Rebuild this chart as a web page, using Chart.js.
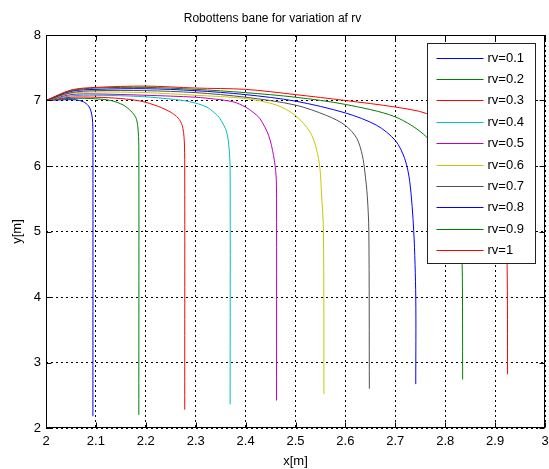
<!DOCTYPE html>
<html>
<head>
<meta charset="utf-8">
<script src="https://cdn.jsdelivr.net/npm/chart.js@4/dist/chart.umd.min.js"></script>
<style>
    html, body { margin: 0; padding: 0; background: #fff; }
</style>
</head>
<body>
<canvas id="bane" width="549" height="469"></canvas>
<script>
// navne paa kurverne
const rvNavne = ['rv=0.1', 'rv=0.2', 'rv=0.3', 'rv=0.4', 'rv=0.5', 'rv=0.6', 'rv=0.7', 'rv=0.8', 'rv=0.9', 'rv=1'];

// robottens bane [x, y] for hver rv
const rv01 = [[2, 7], [2.03, 7.01], [2.06, 7.01], [2.075, 6.98], [2.085, 6.92], [2.09, 6.84], [2.093, 6.72], [2.094, 6.5], [2.094, 2.18]];
const rv02 = [[2, 7], [2.04, 7.03], [2.09, 7.03], [2.13, 7.0], [2.155, 6.93], [2.17, 6.84], [2.18, 6.74], [2.184, 6.6], [2.186, 6.3], [2.186, 2.2]];
const rv03 = [[2, 7], [2.05, 7.05], [2.1, 7.05], [2.15, 7.03], [2.19, 6.99], [2.225, 6.91], [2.25, 6.82], [2.265, 6.73], [2.273, 6.62], [2.277, 6.4], [2.278, 6.0], [2.278, 2.28]];
const rv04 = [[2, 7], [2.05, 7.07], [2.1, 7.08], [2.16, 7.07], [2.21, 7.05], [2.275, 7.0], [2.3, 6.96], [2.322, 6.9], [2.338, 6.81], [2.349, 6.72], [2.362, 6.52], [2.367, 6.26], [2.369, 5.96], [2.369, 2.36]];
const rv05 = [[2, 7], [2.05, 7.09], [2.1, 7.1], [2.2, 7.08], [2.3, 7.05], [2.34, 7.02], [2.375, 6.98], [2.4, 6.9], [2.415, 6.82], [2.429, 6.72], [2.446, 6.47], [2.456, 6.16], [2.461, 5.86], [2.462, 5.5], [2.462, 2.42]];
const rv06 = [[2, 7], [2.05, 7.11], [2.1, 7.13], [2.2, 7.12], [2.3, 7.08], [2.4, 7.03], [2.462, 6.93], [2.5, 6.77], [2.529, 6.52], [2.542, 6.26], [2.549, 5.96], [2.552, 5.6], [2.556, 5.0], [2.557, 2.52]];
const rv07 = [[2, 7], [2.05, 7.12], [2.1, 7.15], [2.2, 7.15], [2.3, 7.12], [2.4, 7.05], [2.5, 6.93], [2.5625, 6.77], [2.6, 6.62], [2.623, 6.42], [2.634, 6.16], [2.639, 5.91], [2.644, 5.53], [2.647, 5.0], [2.648, 2.6]];
const rv08 = [[2, 7], [2.05, 7.14], [2.1, 7.17], [2.2, 7.18], [2.3, 7.15], [2.4, 7.09], [2.5, 6.99], [2.6, 6.81], [2.663, 6.62], [2.7, 6.39], [2.719, 6.11], [2.729, 5.76], [2.737, 5.0], [2.741, 4.0], [2.741, 2.67]];
const rv09 = [[2, 7], [2.05, 7.15], [2.1, 7.19], [2.2, 7.2], [2.3, 7.17], [2.4, 7.12], [2.5, 7.05], [2.6, 6.94], [2.7, 6.75], [2.763, 6.44], [2.8, 6.0], [2.82, 5.5], [2.83, 5.0], [2.834, 4.5], [2.835, 2.74]];
const rv10 = [[2, 7], [2.05, 7.16], [2.1, 7.2], [2.2, 7.22], [2.3, 7.19], [2.4, 7.17], [2.5, 7.09], [2.6, 7.0], [2.7, 6.9], [2.763, 6.8], [2.84, 6.5], [2.89, 6.0], [2.91, 5.5], [2.92, 5.0], [2.924, 4.5], [2.925, 2.82]];

const baner = [rv01, rv02, rv03, rv04, rv05, rv06, rv07, rv08, rv09, rv10];

// akse-ticks
const xTicks = [2, 2.1, 2.2, 2.3, 2.4, 2.5, 2.6, 2.7, 2.8, 2.9, 3];
const yTicks = [2, 3, 4, 5, 6, 7, 8];

// farver (matlab standard)
const farver = ['#0000ff', '#008000', '#ff0000', '#00bfbf', '#bf00bf', '#c8c800', '#505050', '#0000ff', '#008000', '#ff0000'];

const skrift = 'Liberation Sans, Arial, Helvetica, sans-serif';

let datasets = baner.map(function(bane, i) {
    return {
        label: rvNavne[i],
        data: bane.map(p => ({x: p[0], y: p[1]})),
        borderColor: farver[i],
        backgroundColor: farver[i],
        borderWidth: 1,
        pointRadius: 0,
        tension: 0.3,
        fill: false,
        order: baner.length - i
    };
});

// ramme, indadvendte ticks og legend i hjoernet
const ramme = {
    id: 'ramme',
    afterDatasetsDraw(chart) {
        const ctx = chart.ctx;
        const a = chart.chartArea;
        const x = chart.scales.x;
        const y = chart.scales.y;
        const l = Math.round(a.left) + 0.5, r = Math.round(a.right) - 0.5;
        const t = Math.round(a.top) + 0.5, b = Math.round(a.bottom) - 0.5;
        ctx.save();
        ctx.strokeStyle = '#000';
        ctx.lineWidth = 1;
        ctx.setLineDash([]);
        ctx.strokeRect(l, t, r - l, b - t);
        ctx.beginPath();
        xTicks.forEach(function(v) {
            const px = Math.round(x.getPixelForValue(v)) + 0.5;
            ctx.moveTo(px, b); ctx.lineTo(px, b - 5);
            ctx.moveTo(px, t); ctx.lineTo(px, t + 5);
        });
        yTicks.forEach(function(v) {
            const py = Math.round(y.getPixelForValue(v)) + 0.5;
            ctx.moveTo(l, py); ctx.lineTo(l + 5, py);
            ctx.moveTo(r, py); ctx.lineTo(r - 5, py);
        });
        ctx.stroke();

        // legend
        const bw = 108, rowH = 21.4;
        const bh = rowH * chart.data.datasets.length + 6;
        const bx = Math.round(a.right - 10 - bw) + 0.5;
        const by = Math.round(a.top + 8) + 0.5;
        ctx.fillStyle = '#fff';
        ctx.fillRect(bx, by, bw, bh);
        ctx.strokeStyle = '#222';
        ctx.strokeRect(bx, by, bw, bh);
        ctx.font = '13px ' + skrift;
        ctx.textBaseline = 'middle';
        ctx.textAlign = 'left';
        chart.data.datasets.forEach(function(ds, i) {
            const cy = Math.round(by + 14 + i * rowH) + 0.5;
            ctx.strokeStyle = farver[i];
            ctx.beginPath();
            ctx.moveTo(bx + 9, cy);
            ctx.lineTo(bx + 56, cy);
            ctx.stroke();
            ctx.fillStyle = '#000';
            ctx.fillText(ds.label, bx + 60, cy);
        });
        ctx.restore();
    }
};

new Chart(document.getElementById('bane'), {
    type: 'line',
    data: { datasets: datasets },
    plugins: [ramme],
    options: {
        responsive: false,
        animation: false,
        layout: { padding: { left: 0, right: 4, top: 0, bottom: 0 } },
        plugins: {
            legend: { display: false },
            tooltip: { enabled: false },
            title: {
                display: true,
                text: 'Robottens bane for variation af rv',
                color: '#000',
                font: { family: skrift, size: 12, weight: 'normal', lineHeight: 1.2 },
                padding: { top: 11, bottom: 9.6 }
            }
        },
        scales: {
            x: {
                type: 'linear',
                min: 2,
                max: 3,
                afterBuildTicks: s => { s.ticks = xTicks.map(v => ({ value: v })); },
                afterFit: s => {
                    s.height = 41;
                    s.paddingLeft = 0;
                    s.paddingRight = 0;
                },
                ticks: {
                    color: '#000',
                    font: { family: skrift, size: 13 },
                    padding: 6,
                    autoSkip: false,
                    maxRotation: 0,
                    callback: v => String(Math.round(v * 10) / 10)
                },
                grid: { color: '#000', lineWidth: 1, drawTicks: false },
                border: { display: false, dash: [2, 3] },
                title: {
                    display: true,
                    text: 'x[m]',
                    color: '#000',
                    font: { family: skrift, size: 13, lineHeight: 1 },
                    padding: { top: 0, bottom: 1 }
                }
            },
            y: {
                type: 'linear',
                min: 2,
                max: 8,
                afterBuildTicks: s => { s.ticks = yTicks.map(v => ({ value: v })); },
                afterFit: s => { s.width = 46; },
                ticks: {
                    color: '#000',
                    font: { family: skrift, size: 13 },
                    padding: 5,
                    callback: v => String(v)
                },
                grid: { color: '#000', lineWidth: 1, drawTicks: false },
                border: { display: false, dash: [2, 3] },
                title: {
                    display: true,
                    text: 'y[m]',
                    color: '#000',
                    font: { family: skrift, size: 13, lineHeight: 1 },
                    padding: { top: 11, bottom: 0 }
                }
            }
        }
    }
});
</script>
</body>
</html>
